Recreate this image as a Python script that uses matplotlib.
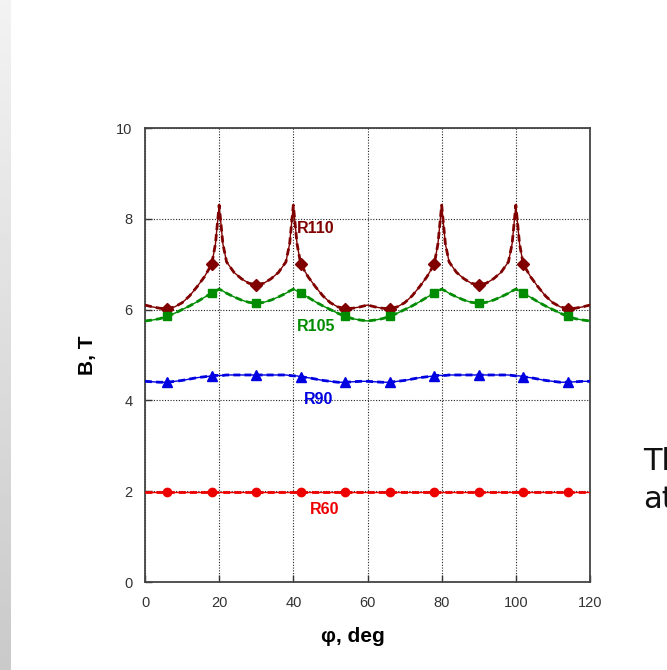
import numpy as np
import matplotlib
matplotlib.use("Agg")
import matplotlib.pyplot as plt

# ---------------- data ----------------
phi_half = [0, 2, 4, 6, 8, 10, 12, 14, 16, 18, 19, 20, 21, 22, 24, 26, 28, 30,
            32, 34, 36, 38, 39, 40, 41, 42, 44, 46, 48, 50, 52, 54, 56, 58, 60]
phi = phi_half + [62, 64, 66, 68, 70, 72, 74, 76, 78, 79, 80, 81, 82, 84, 86, 88, 90,
                  92, 94, 96, 98, 99, 100, 101, 102, 104, 106, 108, 110, 112, 114, 116, 118, 120]

R110 = [6.10, 6.06, 6.03, 6.02, 6.06, 6.15, 6.30, 6.50, 6.72, 7.00, 7.45, 8.30, 7.45, 7.05,
        6.82, 6.68, 6.58, 6.55, 6.58, 6.68, 6.82, 7.05, 7.45, 8.30, 7.45, 7.00, 6.72, 6.50,
        6.30, 6.15, 6.06, 6.02, 6.03, 6.06, 6.10,
        6.06, 6.03, 6.02, 6.06, 6.15, 6.30, 6.50, 6.72, 7.00, 7.45, 8.30, 7.45, 7.05,
        6.82, 6.68, 6.58, 6.55, 6.58, 6.68, 6.82, 7.05, 7.45, 8.30, 7.45, 7.00, 6.72, 6.50,
        6.30, 6.15, 6.06, 6.02, 6.03, 6.06, 6.10]
R105 = [5.75, 5.77, 5.80, 5.85, 5.92, 6.00, 6.08, 6.17, 6.27, 6.36, 6.41, 6.45, 6.41, 6.36,
        6.28, 6.21, 6.16, 6.14, 6.16, 6.21, 6.28, 6.36, 6.41, 6.45, 6.41, 6.36, 6.27, 6.17,
        6.08, 6.00, 5.92, 5.85, 5.80, 5.77, 5.75,
        5.77, 5.80, 5.85, 5.92, 6.00, 6.08, 6.17, 6.27, 6.36, 6.41, 6.45, 6.41, 6.36,
        6.28, 6.21, 6.16, 6.14, 6.16, 6.21, 6.28, 6.36, 6.41, 6.45, 6.41, 6.36, 6.27, 6.17,
        6.08, 6.00, 5.92, 5.85, 5.80, 5.77, 5.75]
R90 = [4.42, 4.41, 4.40, 4.40, 4.42, 4.44, 4.47, 4.50, 4.52, 4.54, 4.55, 4.55, 4.55, 4.56,
       4.56, 4.56, 4.56, 4.56, 4.56, 4.56, 4.56, 4.56, 4.55, 4.54, 4.54, 4.52, 4.50, 4.47,
       4.44, 4.42, 4.40, 4.40, 4.41, 4.42, 4.42,
       4.41, 4.40, 4.40, 4.42, 4.44, 4.47, 4.50, 4.52, 4.54, 4.55, 4.55, 4.55, 4.56,
       4.56, 4.56, 4.56, 4.56, 4.56, 4.56, 4.56, 4.56, 4.55, 4.54, 4.54, 4.52, 4.50, 4.47,
       4.44, 4.42, 4.40, 4.40, 4.41, 4.42, 4.42]
R60 = [1.99] * len(phi)

mk_phi = [6, 18, 30, 42, 54, 66, 78, 90, 102, 114]
R110_mk = [6.02, 7.00, 6.55, 7.00, 6.02, 6.02, 7.00, 6.55, 7.00, 6.02]
R105_mk = [5.85, 6.36, 6.14, 6.36, 5.85, 5.85, 6.36, 6.14, 6.36, 5.85]
R90_mk = [4.40, 4.54, 4.56, 4.52, 4.40, 4.40, 4.54, 4.56, 4.52, 4.40]
R60_mk = [1.99] * 10

labels = ["R110", "R105", "R90", "R60"]
label_pos = [(41.0, 7.78), (41.0, 5.62), (42.9, 4.03), (44.5, 1.59)]
colors = ["#800000", "#008c00", "#0000e0", "#ee0000"]
markers = ["D", "s", "^", "o"]
msizes = [6, 6, 7, 6]

xticks = [0, 20, 40, 60, 80, 100, 120]
yticks = [0, 2, 4, 6, 8, 10]

# ---------------- figure ----------------
W, H = 667, 670
fig = plt.figure(figsize=(W / 100, H / 100), dpi=100)
fig.patch.set_facecolor("white")

# left gray gradient strip
sax = fig.add_axes([0, 0, 11 / W, 1])
grad = np.linspace(0.95, 0.79, 256).reshape(-1, 1)
sax.imshow(grad, aspect="auto", cmap="gray", vmin=0, vmax=1, extent=[0, 1, 0, 1], origin="upper")
sax.axis("off")

ax = fig.add_axes([145 / W, (H - 582) / H, (590 - 145) / W, (582 - 128) / H])

series = [R110, R105, R90, R60]
mks = [R110_mk, R105_mk, R90_mk, R60_mk]
for ys, ym, c, m, ms in zip(series, mks, colors, markers, msizes):
    ax.plot(phi, ys, color=c, lw=1.0, zorder=3)
    ax.plot(phi, ys, color=c, lw=2.0, ls=(0, (2.5, 1.5)), zorder=3)
    ax.plot(mk_phi, ym, ls="none", marker=m, ms=ms, color=c, mec=c, zorder=4)

for lab, (lx, ly), c in zip(labels, label_pos, colors):
    ax.text(lx, ly, lab, color=c, fontsize=11.5, fontweight="bold",
            family="Liberation Sans", ha="left", va="center", zorder=5)

ax.set_xlim(0, 120)
ax.set_ylim(0, 10)
ax.set_xticks(xticks)
ax.set_yticks(yticks)
ax.set_xticklabels([str(v) for v in xticks])
ax.set_yticklabels([str(v) for v in yticks])
ax.grid(True, color="#222222", ls=(0, (1, 1.5)), lw=0.8)
ax.set_axisbelow(True)
ax.tick_params(direction="in", length=5, width=1, color="#333333",
               labelsize=10.5, labelcolor="#333333")
ax.tick_params(axis="x", pad=10)
ax.tick_params(axis="y", pad=9)
for lbl in ax.get_xticklabels() + ax.get_yticklabels():
    lbl.set_family("Liberation Sans")
for s in ax.spines.values():
    s.set_color("#444444")
    s.set_linewidth(1.3)

fig.text(88 / W, 1 - 355 / H, "B, T", rotation=90, fontsize=15, fontweight="bold",
         family="Liberation Sans", ha="center", va="center")
fig.text(353 / W, 1 - 637 / H, "\u03c6, deg", fontsize=15, fontweight="bold",
         family="Liberation Sans", ha="center", va="center")

# slide text on the right, cut off by the picture edge as in the reference
fig.text(643 / W, 1 - 470 / H, "Th", fontsize=22, family="DejaVu Sans",
         color="#111111", ha="left", va="baseline")
fig.text(643 / W, 1 - 508 / H, "at", fontsize=22, family="DejaVu Sans",
         color="#111111", ha="left", va="baseline")

fig.savefig("out.png", dpi=100, facecolor="white")
